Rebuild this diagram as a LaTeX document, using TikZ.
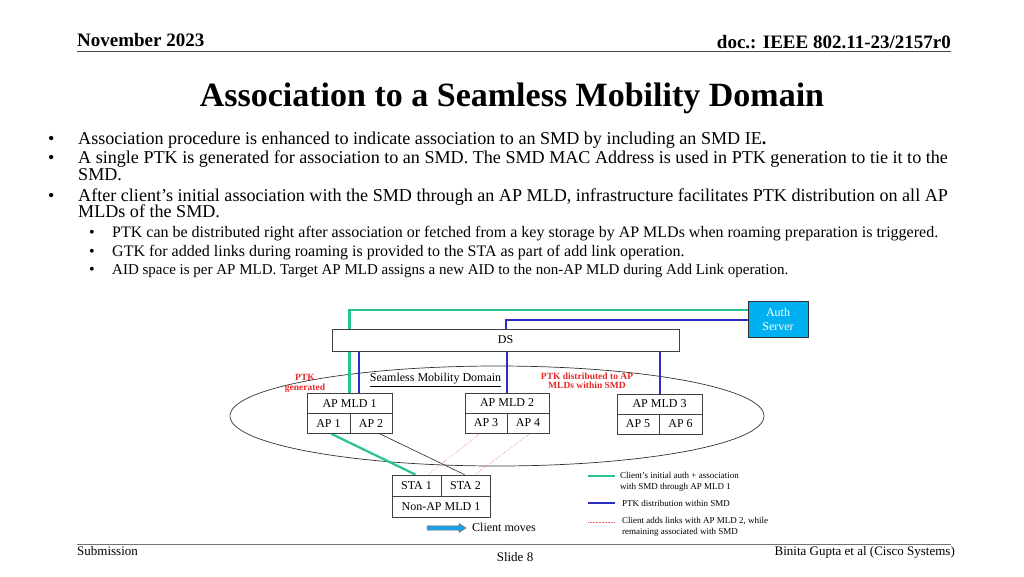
\documentclass[tikz,border=0pt]{standalone}
\usepackage{fontspec}
\setmainfont{Liberation Serif}
\usetikzlibrary{backgrounds}
\definecolor{smdgreen}{RGB}{38,196,148}
\definecolor{smdblue}{RGB}{44,44,190}
\definecolor{smdred}{RGB}{232,40,40}
\definecolor{authcyan}{RGB}{0,176,240}
\definecolor{arrowblue}{RGB}{28,160,228}
\definecolor{rulegray}{RGB}{70,70,70}
\newcommand\fsz[2]{\fontsize{#1}{#2}\selectfont}
\begin{document}
\begin{tikzpicture}[x=1pt,y=-1pt,
  cell/.style={draw=black!75, fill=white, line width=0.8pt, inner sep=0pt, font=\fsz{12}{14}},
  body/.style={anchor=base west, inner sep=0pt, font=\fsz{18.1}{20}},
  sub/.style={anchor=base west, inner sep=0pt, font=\fsz{16}{18}},
  bul/.style={anchor=base west, inner sep=0pt, font=\fsz{18}{20}},
  sbul/.style={anchor=base west, inner sep=0pt, font=\fsz{16}{18}},
  redlab/.style={text=smdred, font=\bfseries\fsz{9.5}{10.5}, align=center, inner sep=0pt},
  leg/.style={anchor=west, inner sep=0pt, font=\fsz{9}{11}, align=left},
  greenline/.style={draw=smdgreen, line width=2.2pt},
  blueline/.style={draw=smdblue, line width=2pt},
  dotline/.style={draw=smdred!70, line width=0.5pt, densely dotted},
  foot/.style={inner sep=0pt, font=\fsz{13}{15}}
]
\useasboundingbox (0,0) rectangle (1024,576);

% header
\node[anchor=base west, inner sep=0pt, font=\bfseries\fsz{19}{21}] (month) at (77,46) {November 2023};
\node[anchor=base east, inner sep=0pt, font=\bfseries\fsz{19}{21}] (doc) at (951,48) {doc.: IEEE 802.11-23/2157r0};
\coordinate (hl) at (77,51.5);
\coordinate (hr) at (951,51.5);
\draw[rulegray, line width=1.8pt] (hl) -- (hr);

% title
\node[anchor=base, inner sep=0pt, font=\bfseries\fsz{34}{38}] (title) at (512,106) {Association to a Seamless Mobility Domain};

% bullets
\node[bul] (d1) at (48,144) {•};
\node[body] (t1) at (78,144) {Association procedure is enhanced to indicate association to an SMD by including an SMD IE\textbf{.}};
\node[bul] (d2) at (48,163.5) {•};
\node[body] (t2) at (78,163.5) {A single PTK is generated for association to an SMD. The SMD MAC Address is used in PTK generation to tie it to the};
\node[body] (t2b) at (78,180) {SMD.};
\node[bul] (d3) at (48,201) {•};
\node[body] (t3) at (78,201) {After client’s initial association with the SMD through an AP MLD, infrastructure facilitates PTK distribution on all AP};
\node[body] (t3b) at (78,217) {MLDs of the SMD.};
\node[sbul] (s1) at (89,237) {•};
\node[sub] (u1) at (112,237) {PTK can be distributed right after association or fetched from a key storage by AP MLDs when roaming preparation is triggered.};
\node[sbul] (s2) at (89,256) {•};
\node[sub] (u2) at (112,256) {GTK for added links during roaming is provided to the STA as part of add link operation.};
\node[sbul] (s3) at (89,274) {•};
\node[sub, font=\fsz{15}{17}] (u3) at (112,274) {AID space is per AP MLD. Target AP MLD assigns a new AID to the non-AP MLD during Add Link operation.};

% diagram boxes
\node[cell, fill=authcyan, draw=black!80, text=white, minimum width=60pt, minimum height=36pt, align=center, font=\fsz{12}{14}] (auth) at (778,319) {Auth\\Server};
\node[cell, minimum width=347pt, minimum height=22pt] (ds) at (505.5,340) {DS};

\node[cell, minimum width=85pt, minimum height=20pt] (mld1) at (349.5,403.5) {AP MLD 1};
\node[cell, minimum width=43pt, minimum height=20pt] (ap1) at (328.5,423.5) {AP 1};
\node[cell, minimum width=42pt, minimum height=20pt] (ap2) at (371,423.5) {AP 2};

\node[cell, minimum width=84pt, minimum height=20pt] (mld2) at (507,403) {AP MLD 2};
\node[cell, minimum width=42pt, minimum height=20pt] (ap3) at (486,423) {AP 3};
\node[cell, minimum width=42pt, minimum height=20pt] (ap4) at (528,423) {AP 4};

\node[cell, minimum width=85pt, minimum height=20pt] (mld3) at (659.5,404) {AP MLD 3};
\node[cell, minimum width=42pt, minimum height=20pt] (ap5) at (638,424) {AP 5};
\node[cell, minimum width=43pt, minimum height=20pt] (ap6) at (680.5,424) {AP 6};

\node[cell, minimum width=49pt, minimum height=21pt] (sta1) at (416.5,485.5) {STA 1};
\node[cell, minimum width=49pt, minimum height=21pt] (sta2) at (465.5,485.5) {STA 2};
\node[cell, minimum width=98pt, minimum height=21pt] (nonap) at (441,506.5) {Non-AP MLD 1};

% labels
\node[inner sep=0pt, font=\fsz{12}{14}] (smd) at (435.5,380) {\underline{Seamless Mobility Domain}};
\node[redlab] (ptkgen) at (305,383.5) {PTK\\[-1pt]generated};
\node[redlab] (ptkdist) at (587,380.5) {PTK distributed to AP\\[-1pt]MLDs within SMD};

% client moves arrow
\draw[fill=arrowblue, draw=black!60, line width=0.4pt]
  (427,525.8) -- (459,525.8) -- (459,523.5) -- (466,528) -- (459,532.5) -- (459,530.2) -- (427,530.2) -- cycle;
\node[anchor=west, inner sep=0pt, font=\fsz{12}{14}] (mvt) at (472,527) {Client moves};

% legend
\coordinate (lg1a) at (588,476); \coordinate (lg1b) at (615,476);
\coordinate (lg2a) at (588,503); \coordinate (lg2b) at (615,503);
\coordinate (lg3a) at (588,522); \coordinate (lg3b) at (615,522);
\draw[greenline] (lg1a) -- (lg1b);
\draw[blueline] (lg2a) -- (lg2b);
\draw[dotline] (lg3a) -- (lg3b);
\node[leg] (l1) at (620,481.5) {Client’s initial auth + association\\with SMD through AP MLD 1};
\node[leg] (l2) at (622,503.5) {PTK distribution within SMD};
\node[leg] (l3) at (622,526.5) {Client adds links with AP MLD 2, while\\remaining associated with SMD};

% footer
\coordinate (fl) at (77,544.5);
\coordinate (fr) at (951,544.5);
\draw[black!55, line width=1.8pt] (fl) -- (fr);
\node[foot, anchor=base west] (sub) at (77,555) {Submission};
\node[foot, anchor=base] (slide) at (515,561) {Slide 8};
\node[foot, anchor=base east] (auth2) at (955,555) {Binita Gupta et al (Cisco Systems)};

% background: ellipse and connectors
\begin{scope}[on background layer]
\fill[white] (0,0) rectangle (1024,576);
\draw[black!80, line width=0.7pt] (497,416) ellipse [x radius=267pt, y radius=50pt];
\draw[greenline] (mld1.north) |- ([yshift=9pt]auth.west);
\draw[blueline] (ds.north) |- ([yshift=-1pt]auth.west);
\draw[blueline] ([xshift=9pt]mld1.north) -- ([xshift=9pt]mld1.north |- ds.center);
\draw[blueline] (mld2.north) -- (mld2.north |- ds.center);
\draw[blueline] (mld3.north) -- (mld3.north |- ds.center);
\draw[greenline] ([xshift=3pt]ap1.south) -- ([xshift=-1pt]sta1.north);
\draw[black!85, line width=0.6pt] ([xshift=9pt]ap2.south) -- ([xshift=-1pt]sta2.north);
\draw[dotline] ([xshift=-6pt]ap3.south) -- ([xshift=11.5pt]sta1.north);
\draw[dotline] ([xshift=2pt]ap4.south) -- ([xshift=9.5pt]sta2.north);
\end{scope}
\end{tikzpicture}
\end{document}
